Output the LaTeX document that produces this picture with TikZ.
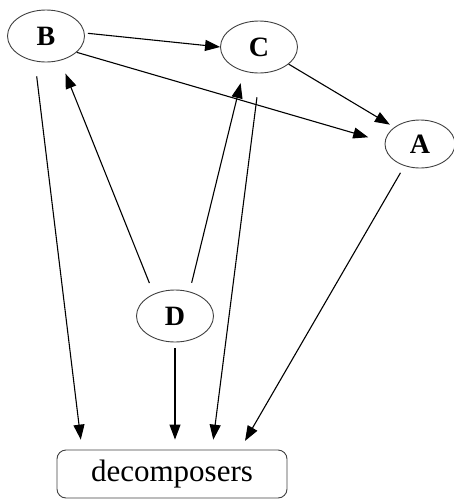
\documentclass[tikz,border=0pt]{standalone}
\usepackage{fontspec}
\setmainfont{Liberation Serif}
\usetikzlibrary{shapes.geometric,arrows.meta}

\begin{document}
\begin{tikzpicture}[x=1pt, y=-1pt,
  every node/.style = {draw=black!75, line width=0.9pt, align=center},
  >={Triangle[length=15pt,width=11pt]}]
    \tikzstyle{species}=[ellipse, minimum width=77pt, minimum height=52pt,
      font=\bfseries\fontsize{28}{28}\selectfont]
    \tikzstyle{sink}=[rectangle, rounded corners=9pt, minimum width=230pt,
      minimum height=48pt, font=\fontsize{31}{31}\selectfont]
    \tikzstyle{flow}=[->, line width=1.1pt]
  \useasboundingbox (0,0) rectangle (454,504);
  % nodes
  \node [species] (B) at (46,36) {B};
  \node [species] (C) at (259,47) {C};
  \node [species, minimum width=70pt, minimum height=48pt] (A) at (420,144) {A};
  \node [species] (D) at (175,316) {D};
  \node [sink] (dec) at (172,474) {decomposers};
  % links between species
  \draw [flow, shorten <=3pt] ([yshift=3pt]B.east) -- (C.west);
  \draw [flow, shorten >=17pt] (B.-28) -- ([yshift=2pt]A.west);
  \draw [flow, shorten >=5pt] (C.-30) -- (A.147);
  \draw [flow, shorten <=7pt, shorten >=12pt] ([xshift=-23pt]D.north) -- ([xshift=15pt]B.south);
  \draw [flow, shorten <=7pt, shorten >=10pt] ([xshift=15pt]D.north) -- ([xshift=-16pt]C.south);
  % links to decomposers
  \draw [flow, shorten <=14pt, shorten >=10pt] ([xshift=-11pt]B.south) -- ([xshift=-90pt]dec.north);
  \draw [flow, shorten <=24pt, shorten >=10pt] ([xshift=1pt]C.south) -- ([xshift=40pt]dec.north);
  \draw [flow, shorten <=6pt, shorten >=10pt] (D.south) -- (D.south |- dec.north);
  \draw [flow, shorten <=5pt, shorten >=10pt] ([xshift=-17pt]A.south) -- ([xshift=68pt]dec.north);
\end{tikzpicture}
\end{document}
